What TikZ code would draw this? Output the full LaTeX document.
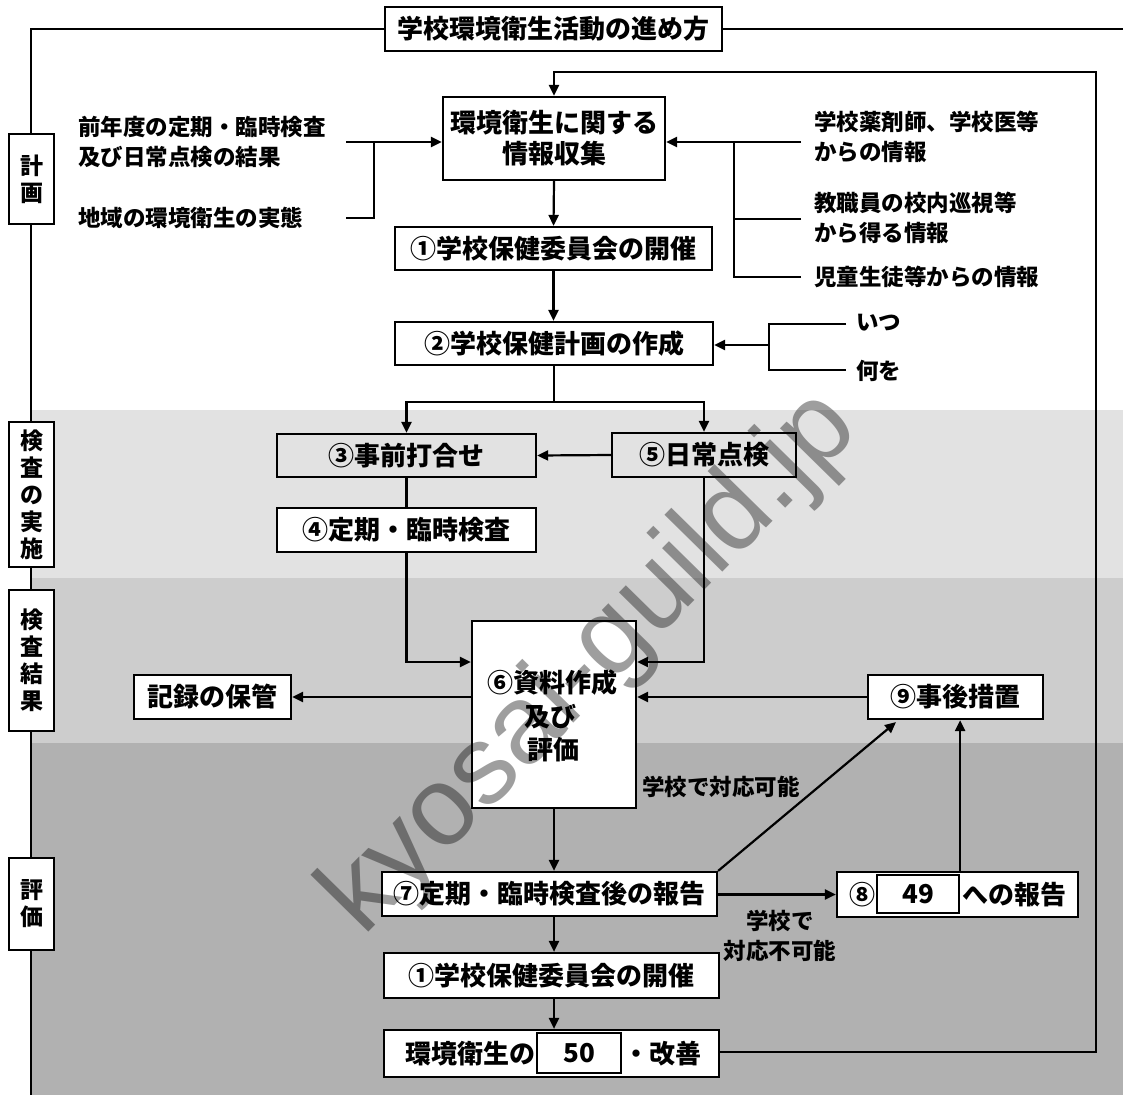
\documentclass[tikz,border=0pt]{standalone}
\usepackage{fontspec}
\setmainfont{Noto Sans CJK JP}
\newfontfamily\wmfont{Liberation Sans}
\usetikzlibrary{arrows.meta,calc}
\definecolor{bandA}{HTML}{E2E2E2}
\definecolor{bandB}{HTML}{CDCDCD}
\definecolor{bandC}{HTML}{B1B1B1}
\begin{document}
\begin{tikzpicture}[x=1pt,y=-1pt,
  ln/.style={line width=2.2pt,draw=black},
  arr/.style={ln,-{Triangle[length=11pt,width=10pt]}},
  bx/.style={ln,rectangle,inner sep=0pt,align=center,font=\fontsize{26}{31}\selectfont\bfseries},
  wbx/.style={bx,fill=white},
  side/.style={inner sep=0pt,align=left,font=\fontsize{22.5}{30}\selectfont\bfseries},
  lab/.style={ln,rectangle,fill=white,inner sep=0pt,minimum width=45pt,align=center,font=\fontsize{23}{27}\selectfont\bfseries},
  txt/.style={inner sep=0pt,font=\fontsize{26}{31}\selectfont\bfseries}
]
\useasboundingbox (0,0) rectangle (1123,1095);
% background bands
\fill[white] (0,0) rectangle (1123,1095);
\fill[bandA] (31,410) rectangle (1123,578);
\fill[bandB] (31,578) rectangle (1123,743);
\fill[bandC] (31,743) rectangle (1123,1095);

% title and frame
\node[wbx,minimum width=337pt,minimum height=44pt] (title) at (553.5,29) {学校環境衛生活動の進め方};
\coordinate (tl) at (31,29);
\coordinate (bl) at (31,1095);
\coordinate (tr) at (1123,29);
\draw[ln] (title.west) -- (tl) -- (bl);
\draw[ln] (title.east) -- (tr);

% left labels
\node[lab,minimum height=90pt] (L1) at (31.5,179) {計\\画};
\node[lab,minimum height=145pt] (L2) at (31.5,494.5) {検\\査\\の\\実\\施};
\node[lab,minimum height=141pt] (L3) at (31.5,660.5) {検\\査\\結\\果};
\node[lab,minimum height=92pt] (L4) at (31.5,904) {評\\価};

% main nodes
\node[wbx,minimum width=222pt,minimum height=83pt] (info) at (554,138.5) {環境衛生に関する\\情報収集};
\node[wbx,minimum width=317pt,minimum height=43pt] (c1) at (553.5,248.5) {①学校保健委員会の開催};
\node[wbx,minimum width=318pt,minimum height=43pt] (c2) at (554,343.5) {②学校保健計画の作成};
\node[bx,minimum width=259pt,minimum height=43pt] (c3) at (406.5,455.5) {③事前打合せ};
\node[wbx,minimum width=259pt,minimum height=44pt] (c4) at (406.5,530) {④定期・臨時検査};
\node[bx,minimum width=184pt,minimum height=44pt] (c5) at (704,455) {⑤日常点検};
\node[wbx,minimum width=164pt,minimum height=187pt] (c6) at (554,714.5) {};
\node[txt] (t6a) at (552,683) {⑥資料作成};
\node[txt] (t6b) at (550,717) {及び};
\node[txt] (t6c) at (553,750) {評価};
\node[wbx,minimum width=157pt,minimum height=44pt] (rec) at (212.5,697) {記録の保管};
\node[wbx,minimum width=175pt,minimum height=44pt] (c9) at (955.5,697) {⑨事後措置};
\node[wbx,minimum width=335pt,minimum height=44pt] (c7) at (549.5,894) {⑦定期・臨時検査後の報告};
\node[wbx,minimum width=241pt,minimum height=45pt] (c8) at (957.5,894.5) {};
\node[wbx,minimum width=82pt,minimum height=38pt] (n49) at (918,894) {49};
\node[txt] (t8a) at (862,894.5) {⑧};
\node[txt] (t8b) at (1014,894.5) {への報告};
\node[wbx,minimum width=335pt,minimum height=45pt] (c1b) at (551.5,975.5) {①学校保健委員会の開催};
\node[wbx,minimum width=335pt,minimum height=47pt] (fin) at (551.5,1053.5) {};
\node[wbx,minimum width=84pt,minimum height=40pt] (n50) at (579,1053) {50};
\node[txt] (tfa) at (470,1053.5) {環境衛生の};
\node[txt] (tfb) at (662,1053.5) {・改善};

% side texts
\node[side,anchor=west] (sL1) at (78,142) {前年度の定期・臨時検査\\及び日常点検の結果};
\node[side,anchor=west] (sL2) at (78,218) {地域の環境衛生の実態};
\node[side,anchor=west] (sR1) at (814,137) {学校薬剤師、学校医等\\からの情報};
\node[side,anchor=west] (sR2) at (814,217.5) {教職員の校内巡視等\\から得る情報};
\node[side,anchor=west] (sR3) at (814,277) {児童生徒等からの情報};
\node[side,anchor=west] (itsu) at (856,323) {いつ};
\node[side,anchor=west] (nani) at (856,371) {何を};
\node[side,anchor=west] (ok) at (642,787) {学校で対応可能};
\node[side,align=center] (ng) at (780,936) {学校で\\対応不可能};

% left bracket
\coordinate (lA) at (346,142);
\coordinate (lB) at (346,218);
\coordinate (lJ) at (374,142);
\coordinate (lJb) at (374,218);
\draw[arr] (lA) -- (lA -| info.west);
\draw[ln] (lB) -- (lJb) -- (lJ);

% right bracket
\coordinate (rA) at (801,142);
\coordinate (rB) at (801,219);
\coordinate (rC) at (801,277);
\coordinate (rJa) at (734,142);
\coordinate (rJb) at (734,219);
\coordinate (rJc) at (734,277);
\draw[arr] (rA) -- (rA -| info.east);
\draw[ln] (rC) -- (rJc) -- (rJa);
\draw[ln] (rB) -- (rJb);

% itsu / nani bracket
\coordinate (iA) at (846,324);
\coordinate (iB) at (846,370);
\coordinate (iJa) at (769,324);
\coordinate (iJb) at (769,370);
\coordinate (iJ) at (769,345);
\draw[ln] (iA) -- (iJa) -- (iJb) -- (iB);
\draw[arr] (iJ) -- (iJ -| c2.east);

% main flow
\draw[arr] (info.south) -- (c1.north);
\draw[arr] (c1.south) -- (c1.south |- c2.north);
\coordinate (s2) at (554,402);
\draw[ln] (c2.south) -- (s2);
\draw[arr] (s2) -| (c3.north);
\draw[arr] (s2) -| (c5.north);
\draw[arr] (c5.west) -- (c3.east);
\draw[ln] (c3.south) -- (c4.north);
\draw[arr] (c4.south) |- ([yshift=52.5pt]c6.west);
\draw[arr] (c5.south) |- ([yshift=52.5pt]c6.east);
\draw[arr] (c6.west |- rec.east) -- (rec.east);
\draw[arr] (c9.west) -- (c9.west -| c6.east);
\draw[arr] (c6.south) -- (c6.south |- c7.north);
\draw[arr] (c7.east |- c8.west) -- (c8.west);
\draw[arr] (c7.north east) -- ([xshift=-59.5pt,yshift=-2pt]c9.south);
\draw[arr] (c8.north -| n49.east) -- (c9.south -| n49.east);
\draw[arr] (c6.south |- c7.south) -- (c6.south |- c1b.north);
\draw[arr] (c6.south |- c1b.south) -- (c6.south |- fin.north);

% feedback loop
\coordinate (lpBR) at (1096,1052);
\coordinate (lpTR) at (1096,72);
\draw[arr] (fin.east |- lpBR) -- (lpBR) -- (lpTR) -| (info.north);

% watermark
\node[rotate=45.5,font=\wmfont\fontsize{112}{112}\selectfont,text=black,opacity=0.38,inner sep=0pt] (wm) at (592,664) {kyosai-guild.jp};
\end{tikzpicture}
\end{document}
